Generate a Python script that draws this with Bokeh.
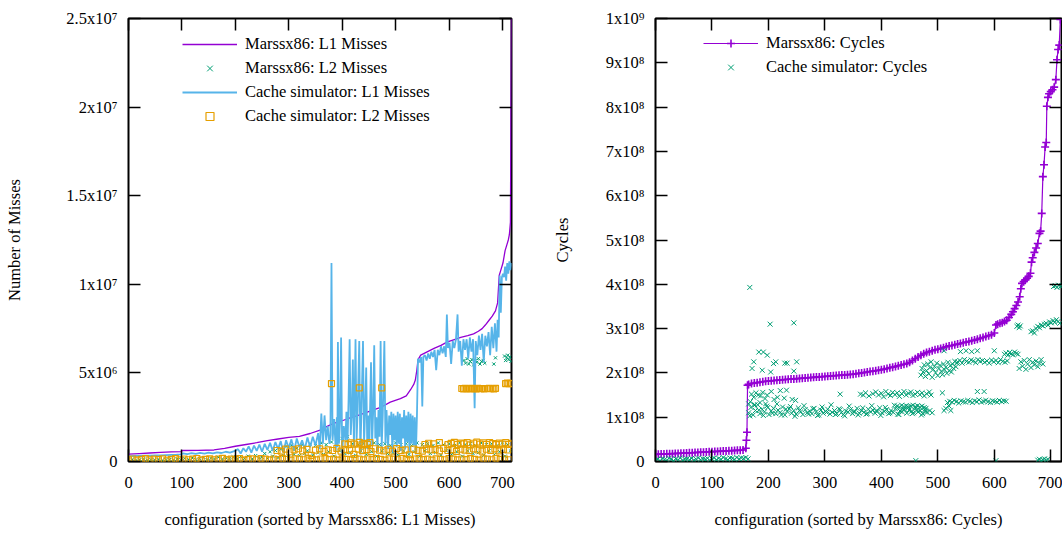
from bokeh.plotting import figure
from bokeh.layouts import row
from bokeh.models import (ColumnDataSource, FixedTicker, LinearAxis, Range1d, Legend, LegendItem,
                          CustomLabelingPolicy)
from bokeh.embed import file_html
from bokeh.resources import INLINE

# ---------------- LEFT PANEL DATA (values in millions of misses) ----------------
mars_l1_cfg = [0, 20, 40, 60, 80, 99, 101, 130, 160, 180, 200, 220, 240, 260, 280, 300, 320, 340, 360, 370,
               384, 400, 416, 430, 447, 460, 472, 490, 509, 520, 528, 534, 537, 540, 542, 547, 560, 572, 585, 597,
               610, 622, 635, 646, 655, 662, 668, 675, 681, 687, 691, 694, 697, 701, 705, 708, 711, 713, 715, 716, 717]
mars_l1_val = [0.42, 0.45, 0.48, 0.51, 0.54, 0.56, 0.62, 0.63, 0.65, 0.74, 0.86, 0.96, 1.06, 1.18, 1.27, 1.36, 1.42, 1.58, 1.78, 1.95,
               2.15, 2.30, 2.48, 2.60, 2.79, 2.93, 3.05, 3.35, 3.55, 3.70, 4.05, 4.35, 4.60, 5.20, 5.75, 6.00, 6.20, 6.38, 6.55, 6.75,
               6.88, 7.00, 7.10, 7.20, 7.35, 7.50, 7.70, 7.97, 8.20, 8.50, 8.95, 10.5, 10.8, 11.2, 11.9, 12.2, 12.5, 12.8, 13.5, 20.0, 26.0]

sim_l1_cfg = [0, 10, 20, 30, 40, 50, 60, 70, 80, 90, 98, 102, 110, 118, 126, 134, 142, 150, 158, 166, 174, 182, 190, 198,
              205, 210, 215, 220, 225, 230, 235, 240, 245, 250, 255, 260, 265, 270, 275, 280, 285, 290, 295, 300, 305, 310,
              315, 320, 325, 330, 335, 340, 345, 350, 355, 358, 361, 364, 367, 370, 373, 376, 378, 380, 382, 385,
              388, 390, 391, 392, 394, 396, 398, 400, 403, 406, 408, 410, 412, 414, 416, 418, 420, 422, 425, 427,
              429, 432, 434, 436, 439, 441, 443, 445, 447, 449, 451, 454, 456, 458, 460, 462, 464, 466, 468, 470,
              472, 474, 476, 479, 481, 483, 486, 488, 490, 492, 494, 496, 498, 500, 502, 504, 506, 508, 510, 512,
              514, 516, 518, 520, 522, 524, 526, 528, 530, 532, 534, 536, 538, 540,
              542, 545, 548, 550, 552, 555, 558, 561, 564, 567, 570, 573, 576, 579, 582, 585, 588, 591, 594, 596,
              598, 601, 604, 607, 610, 613, 616, 618, 621, 624, 627, 630, 633, 636, 639, 642, 645, 648, 650, 653,
              656, 659, 662, 665, 668, 671, 674, 677, 680, 683, 686, 689, 691, 693, 695, 697, 699, 701, 703, 705,
              707, 709, 711, 713, 715, 717]
sim_l1_val = [0.30, 0.31, 0.32, 0.33, 0.33, 0.34, 0.35, 0.36, 0.37, 0.38, 0.40, 0.46, 0.42, 0.47, 0.43, 0.49, 0.45, 0.50, 0.46, 0.52, 0.48, 0.55, 0.50, 0.58,
              0.70, 0.45, 0.75, 0.55, 0.85, 0.50, 0.90, 0.60, 0.95, 0.55, 1.00, 0.65, 1.05, 0.60, 1.10, 0.70, 1.15, 0.50, 1.20, 0.75, 1.25, 0.60,
              1.30, 0.80, 1.20, 0.70, 1.35, 0.80, 1.40, 0.90, 1.60, 0.70, 2.70, 1.00, 2.60, 1.20, 2.00, 1.00, 1.50, 11.2, 1.20, 2.40,
              0.6, 2.5, 0.8, 6.75, 1.0, 2.2, 7.0, 0.5, 2.0, 1.2, 2.8, 0.9, 3.5, 6.9, 1.5, 2.6, 5.75, 0.8, 6.9, 1.2,
              2.9, 6.8, 0.4, 2.7, 6.8, 1.0, 2.8, 5.3, 0.7, 2.6, 1.1, 5.6, 0.9, 2.8, 6.56, 1.3, 2.5, 0.6, 2.9, 1.4,
              6.8, 0.8, 2.6, 6.8, 1.0, 2.9, 0.7, 2.6, 1.5, 2.8, 0.5, 2.7, 1.2, 2.6, 0.8, 2.8, 1.0, 2.7, 0.6, 2.5,
              1.3, 2.9, 0.7, 2.6, 1.1, 2.8, 0.5, 2.7, 1.0, 2.6, 0.9, 2.5, 0.4, 2.6,
              5.8, 5.6, 5.9, 3.1, 5.9, 6.0, 5.7, 6.1, 5.8, 6.2, 5.9, 6.3, 5.15, 6.3, 6.0, 6.5, 6.1, 6.5, 5.9, 8.3,
              6.4, 6.7, 5.5, 6.8, 6.4, 6.9, 8.3, 6.2, 6.8, 5.4, 6.9, 6.3, 6.9, 5.8, 7.0, 6.2, 6.9, 3.0, 6.8, 6.0,
              7.1, 6.3, 7.2, 5.6, 7.1, 6.5, 7.3, 6.0, 7.6, 6.4, 7.8, 6.2, 8.0, 7.0, 10.5, 8.4, 10.4, 10.6, 10.4, 11.0,
              10.2, 11.2, 10.6, 11.3, 10.8, 11.2]

mars_l2_low_cfg = [0, 7, 14, 21, 28, 35, 42, 49, 56, 63, 70, 77, 84, 91, 98, 105, 112, 119, 126, 133, 140, 147, 154, 161,
                   168, 175, 182, 189, 196, 203, 210, 217, 224, 231, 238, 245]
mars_l2_low_val = [0.08, 0.12, 0.06, 0.10, 0.14, 0.07, 0.11, 0.09, 0.13, 0.06, 0.10, 0.12, 0.08, 0.15, 0.09, 0.18, 0.12, 0.20,
                   0.10, 0.16, 0.22, 0.11, 0.19, 0.14, 0.24, 0.12, 0.21, 0.15, 0.26, 0.13, 0.28, 0.17, 0.30, 0.14, 0.33, 0.20]
mars_l2_mid_cfg = [250, 255, 260, 265, 270, 275, 280, 285, 290, 295, 300, 305, 310, 315, 320, 325, 330, 335, 340, 345,
                   350, 355, 360, 365, 370, 375, 380, 385, 390, 395, 400, 405, 410, 415, 420, 425, 430, 435, 440, 445,
                   450, 455, 460, 465, 470, 475, 480, 485, 490, 495, 500, 505, 510, 515, 520, 525, 530, 535, 540, 545,
                   550, 555, 560, 565, 570, 575, 580, 585, 590, 595, 600, 605, 610, 615, 620, 625, 630, 635, 640, 645,
                   650, 655, 660, 665, 670, 675, 680, 685, 690, 695, 700, 705, 710, 715]
mars_l2_mid_val = [0.25, 0.45, 0.18, 0.55, 0.30, 0.62, 0.22, 0.70, 0.35, 0.85, 0.28, 0.92, 0.40, 0.75, 0.33, 0.95, 0.45,
                   0.60, 1.00, 0.35, 0.90, 0.50, 1.05, 0.40, 0.95, 0.55, 1.10, 0.30, 0.90, 0.60, 1.30, 0.45, 1.40, 0.50,
                   1.00, 0.35, 0.95, 0.60, 1.00, 0.40, 0.90, 0.55, 1.05, 0.30, 0.95, 0.60, 1.00, 0.45, 0.90, 0.50, 1.05,
                   0.35, 0.95, 0.60, 1.00, 0.40, 0.90, 0.55, 1.05, 0.30, 0.95, 0.60, 1.00, 0.45, 0.90, 0.50, 1.05, 0.35,
                   0.95, 0.60, 1.00, 0.40, 0.90, 0.55, 1.05, 0.30, 0.95, 0.60, 1.00, 0.45, 0.90, 0.50, 1.05, 0.35, 0.95,
                   0.60, 1.00, 0.40, 0.90, 0.55, 1.05, 0.30, 0.95, 0.60]
mars_l2_high_cfg = [628, 631, 634, 637, 640, 643, 646, 649, 652, 655, 658, 661, 664, 667, 684, 687,
                    704, 706, 708, 710, 712, 714, 716]
mars_l2_high_val = [5.70, 5.55, 5.80, 5.50, 5.65, 5.75, 5.45, 5.70, 5.60, 5.80, 5.50, 5.65, 5.70, 5.55, 5.50, 5.85,
                    5.95, 5.70, 5.85, 6.00, 5.75, 5.90, 5.65]

sim_l2_base_cfg = [0, 8, 16, 24, 32, 40, 48, 56, 64, 72, 80, 88, 96, 104, 112, 120, 128, 136, 144, 152, 160, 168, 176, 184,
                   192, 200, 208, 216, 224, 232, 240, 248, 256, 264, 272, 280, 288, 296, 304, 312, 320, 328, 336, 344,
                   352, 360, 368, 376, 384, 392, 400, 408, 416, 424, 432, 440, 448, 456, 464, 472, 480, 488, 496, 504,
                   512, 520, 528, 536, 544, 552, 560, 568, 576, 584, 592, 600, 608, 616, 624, 632, 640, 648, 656, 664,
                   672, 680, 688, 696, 704, 712]
sim_l2_base_val = [0.10, 0.14, 0.08, 0.12, 0.16, 0.09, 0.13, 0.11, 0.15, 0.07, 0.12, 0.16, 0.09, 0.14, 0.10, 0.13, 0.17, 0.08,
                   0.12, 0.15, 0.10, 0.14, 0.18, 0.09, 0.13, 0.11, 0.16, 0.08, 0.12, 0.15, 0.10, 0.17, 0.13, 0.09, 0.14, 0.11,
                   0.16, 0.12, 0.08, 0.15, 0.13, 0.10, 0.18, 0.12, 0.09, 0.14, 0.16, 0.11, 0.13, 0.08, 0.15, 0.12, 0.10, 0.17,
                   0.13, 0.09, 0.14, 0.11, 0.16, 0.12, 0.08, 0.15, 0.13, 0.10, 0.18, 0.12, 0.09, 0.14, 0.16, 0.11, 0.13, 0.08,
                   0.15, 0.12, 0.10, 0.17, 0.13, 0.09, 0.14, 0.11, 0.16, 0.12, 0.08, 0.15, 0.13, 0.10, 0.18, 0.12, 0.14, 0.10]
sim_l2_mid_cfg = [278, 286, 294, 302, 310, 318, 326, 334, 342, 350, 358, 366, 374, 382, 390, 398, 406, 414, 422, 430,
                  438, 446, 454, 462, 470, 478, 486, 494, 502, 510, 518, 526, 534, 542, 550, 558, 566, 574, 582, 590,
                  598, 606, 614, 622, 630, 638, 646, 654, 662, 670, 678, 686, 694, 702, 710]
sim_l2_mid_val = [0.62, 0.58, 0.70, 0.55, 0.66, 0.72, 0.60, 0.68, 0.35, 0.64, 0.71, 0.57, 0.66, 0.62, 0.74, 0.59, 0.68, 0.63,
                  0.40, 0.70, 0.61, 0.67, 0.56, 0.72, 0.64, 0.60, 0.69, 0.58, 0.73, 0.62, 0.66, 0.38, 0.70, 0.63, 0.59, 0.71,
                  0.65, 0.68, 0.60, 0.74, 0.62, 0.67, 0.57, 0.70, 0.64, 0.61, 0.72, 0.66, 0.59, 0.69, 0.63, 0.71, 0.60, 0.68, 0.65]
sim_l2_upper_cfg = [405, 411, 417, 423, 432, 437, 441, 447, 452, 555, 562, 571, 582, 598, 604, 610, 616, 622, 628, 634,
                    640, 646, 652, 658, 664, 670, 676, 682, 688, 694, 700, 706, 712, 717]
sim_l2_upper_val = [1.00, 0.95, 1.05, 0.98, 1.08, 0.94, 1.02, 0.97, 1.06, 0.96, 1.03, 0.99, 1.07, 0.95, 1.02, 1.08, 0.97,
                    1.04, 0.99, 1.06, 0.94, 1.03, 1.09, 0.98, 1.05, 0.96, 1.07, 1.01, 0.95, 1.04, 0.98, 1.06, 0.97, 1.02]
sim_l2_high_cfg = [380, 432, 474, 624, 627, 630, 633, 636, 639, 642, 645, 648, 651, 654, 657, 660, 663, 666,
                   672, 675, 678, 681, 684, 687, 706, 709, 712, 715, 717]
sim_l2_high_val = [4.40, 4.15, 4.15, 4.12, 4.10, 4.13, 4.11, 4.12, 4.10, 4.13, 4.12, 4.11, 4.10, 4.13, 4.12, 4.11, 4.12, 4.10,
                   4.12, 4.13, 4.11, 4.12, 4.10, 4.13, 4.40, 4.42, 4.39, 4.41, 4.40]

left_yticks = [0, 5, 10, 15, 20, 25]
left_ylabels = ["0", "5x10⁶", "1x10⁷", "1.5x10⁷", "2x10⁷", "2.5x10⁷"]

# ---------------- RIGHT PANEL DATA (values in units of 1e8 cycles) ----------------
mars_cyc_cfg = [0, 5, 10, 15, 20, 25, 30, 35, 40, 45, 50, 55, 60, 65, 70, 75, 80, 85, 90, 95, 100, 105, 110, 115, 120, 125,
                130, 135, 140, 145, 150, 155, 160, 161, 162, 163,
                165, 170, 175, 180, 185, 190, 195, 200, 205, 210, 215, 220, 225, 230, 235, 240, 245, 250, 255, 260,
                265, 270, 275, 280, 285, 290, 295, 300, 305, 310, 315, 320, 325, 330, 335, 340, 345, 350, 355, 360,
                365, 370, 375, 380, 385, 390, 395, 400, 405, 410, 415, 420, 425, 430, 435, 440, 445, 450, 455, 460,
                465, 470, 475, 480, 485, 490, 495, 500, 505, 510, 515, 520, 525, 530, 535, 540, 545, 550, 555, 560,
                565, 570, 575, 580, 585, 590, 595, 600,
                603, 606, 610, 614, 618, 622, 626, 630, 633, 636, 639, 642, 645, 647, 649, 652, 655, 658, 661, 664,
                666, 668, 671, 674, 677, 680, 682, 684, 686, 688, 690, 692, 693, 695, 697, 700, 703, 706, 709, 711,
                713, 715, 717, 718, 719]
mars_cyc_val = [0.160, 0.162, 0.167, 0.169, 0.173, 0.175, 0.177, 0.181, 0.183, 0.185, 0.189, 0.192, 0.195, 0.199, 0.202, 0.205,
                0.209, 0.211, 0.215, 0.219, 0.222, 0.225, 0.228, 0.232, 0.235, 0.238, 0.242, 0.245, 0.249, 0.252, 0.255, 0.259,
                0.30, 0.48, 0.66, 1.72,
                1.74, 1.76, 1.77, 1.78, 1.79, 1.80, 1.81, 1.815, 1.82, 1.83, 1.835, 1.84, 1.845, 1.85, 1.855, 1.86,
                1.865, 1.87, 1.875, 1.88, 1.885, 1.89, 1.895, 1.90, 1.905, 1.91, 1.915, 1.92, 1.925, 1.93, 1.935, 1.94,
                1.945, 1.95, 1.955, 1.96, 1.965, 1.97, 1.98, 1.99, 2.00, 2.01, 2.02, 2.03, 2.04, 2.05, 2.06, 2.07,
                2.085, 2.10, 2.115, 2.13, 2.145, 2.16, 2.18, 2.195, 2.21, 2.24, 2.28, 2.32, 2.36, 2.40, 2.43, 2.46,
                2.48, 2.50, 2.52, 2.535, 2.55, 2.57, 2.59, 2.61, 2.62, 2.635, 2.65, 2.665, 2.68, 2.695, 2.71, 2.725,
                2.74, 2.76, 2.78, 2.80, 2.82, 2.84, 2.86, 2.90,
                3.08, 3.10, 3.12, 3.13, 3.16, 3.19, 3.25, 3.32, 3.38, 3.45, 3.52, 3.60, 3.72, 3.90, 4.02, 4.06, 4.10, 4.14,
                4.18, 4.25, 4.50, 4.60, 4.72, 4.82, 4.92, 5.15, 5.20, 5.60, 6.43, 6.70, 7.10, 7.20, 8.02, 8.22, 8.30, 8.35,
                8.39, 8.45, 8.62, 9.07, 9.30, 9.40, 9.98, 10.3, 10.6]

sim_cyc_zero_cfg = [0, 4, 8, 12, 16, 20, 24, 28, 32, 36, 40, 44, 48, 52, 56, 60, 64, 68, 72, 76, 80, 84, 88, 92, 96, 100,
                    104, 108, 112, 116, 120, 124, 128, 132, 136, 140, 144, 148, 152, 156, 160, 164]
sim_cyc_zero_val = [0.03, 0.05, 0.02, 0.06, 0.04, 0.03, 0.07, 0.05, 0.02, 0.06, 0.04, 0.08, 0.03, 0.05, 0.06, 0.04, 0.07,
                    0.03, 0.05, 0.08, 0.04, 0.06, 0.05, 0.07, 0.03, 0.06, 0.08, 0.04, 0.07, 0.05, 0.09, 0.06, 0.04, 0.08,
                    0.07, 0.05, 0.09, 0.06, 0.08, 0.07, 0.09, 0.06]
sim_cyc_band_cfg = [165, 169, 173, 177, 181, 185, 189, 193, 197, 201, 205, 209, 213, 217, 221, 225, 229, 233, 237, 241,
                    245, 249, 253, 257, 261, 265, 269, 273, 277, 281, 285, 289, 293, 297, 301, 305, 309, 313, 317, 321,
                    325, 329, 333, 337, 341, 345, 349, 353, 357, 361, 365, 369, 373, 377, 381, 385, 389, 393, 397, 401,
                    405, 409, 413, 417, 421, 425, 429, 433, 437, 441, 445, 449, 453, 457, 461, 465, 469, 473, 477, 481]
sim_cyc_band_val = [1.10, 1.22, 1.05, 1.15, 1.28, 1.08, 1.18, 1.12, 1.25, 1.06, 1.14, 1.20, 1.08, 1.16, 1.11, 1.23, 1.05,
                    1.13, 1.19, 1.09, 1.15, 1.07, 1.21, 1.12, 1.06, 1.17, 1.10, 1.14, 1.08, 1.20, 1.12, 1.05, 1.16, 1.09,
                    1.13, 1.18, 1.07, 1.11, 1.15, 1.08, 1.19, 1.10, 1.06, 1.14, 1.12, 1.17, 1.08, 1.13, 1.20, 1.09, 1.15,
                    1.11, 1.07, 1.18, 1.12, 1.16, 1.09, 1.14, 1.21, 1.10, 1.13, 1.17, 1.08, 1.15, 1.11, 1.19, 1.07, 1.14,
                    1.12, 1.18, 1.09, 1.16, 1.13, 1.10, 1.20, 1.12, 1.15, 1.08, 1.17, 1.11]
sim_cyc_band2_cfg = [167, 175, 183, 191, 199, 207, 215, 223, 231, 239, 247, 255, 263, 271, 279, 287, 295, 303, 311, 319,
                     327, 335, 343, 351, 359, 367, 375, 383, 391, 399, 407, 415, 423, 431, 439, 447, 455, 463, 471, 479]
sim_cyc_band2_val = [1.03, 1.27, 1.16, 1.04, 1.22, 1.09, 1.30, 1.05, 1.18, 1.24, 1.02, 1.15, 1.26, 1.07, 1.19, 1.04, 1.23,
                     1.11, 1.28, 1.06, 1.17, 1.03, 1.25, 1.12, 1.05, 1.21, 1.08, 1.26, 1.14, 1.04, 1.22, 1.10, 1.27, 1.06,
                     1.18, 1.24, 1.08, 1.15, 1.05, 1.20]
sim_cyc_r15_cfg = [363, 368, 372, 378, 385, 390, 395, 400, 404, 408, 412, 416, 420, 424, 428, 432, 436, 440, 444, 448,
                   452, 456, 460, 464, 468, 472, 476, 480, 485, 488]
sim_cyc_r15_val = [1.52, 1.50, 1.55, 1.48, 1.53, 1.57, 1.50, 1.54, 1.46, 1.58, 1.52, 1.49, 1.56, 1.51, 1.55, 1.47, 1.53,
                   1.58, 1.50, 1.54, 1.57, 1.49, 1.52, 1.56, 1.51, 1.55, 1.48, 1.53, 1.57, 1.50]
sim_cyc_r125_cfg = [428, 432, 436, 440, 444, 448, 452, 456, 460, 464, 468, 472, 476]
sim_cyc_r125_val = [1.25, 1.23, 1.27, 1.24, 1.26, 1.22, 1.25, 1.27, 1.24, 1.26, 1.23, 1.25, 1.22]
sim_cyc_r135_cfg = [517, 521, 525, 529, 533, 537, 541, 545, 549, 553, 557, 561, 565, 569, 573, 577, 581, 585, 589, 593,
                    597, 601, 605, 609, 613, 617, 621]
sim_cyc_r135_val = [1.33, 1.36, 1.34, 1.38, 1.35, 1.32, 1.37, 1.35, 1.34, 1.38, 1.36, 1.33, 1.37, 1.35, 1.39, 1.34, 1.36,
                    1.38, 1.35, 1.33, 1.37, 1.36, 1.34, 1.38, 1.35, 1.37, 1.36]
sim_cyc_up_cfg = [470, 472, 474, 476, 478, 480, 482, 484, 486, 488, 490, 492, 494, 496, 498, 500, 502, 504, 506, 508,
                  510, 512, 514, 516, 518, 520, 522, 524, 526, 528, 530, 532, 534]
sim_cyc_up_val = [1.95, 2.10, 2.02, 2.18, 1.92, 2.05, 2.20, 1.98, 2.12, 2.25, 1.90, 2.08, 2.15, 2.00, 2.22, 1.94, 2.10,
                  2.17, 2.03, 1.96, 2.20, 2.07, 2.13, 1.99, 2.24, 2.05, 2.16, 2.02, 2.20, 2.10, 2.26, 2.14, 2.22]
sim_cyc_r225_cfg = [535, 539, 543, 547, 551, 555, 559, 563, 567, 571, 575, 579, 583, 587, 591, 595, 599, 603, 607, 611,
                    615, 619, 623]
sim_cyc_r225_val = [2.25, 2.28, 2.22, 2.30, 2.26, 2.24, 2.29, 2.27, 2.23, 2.30, 2.26, 2.28, 2.24, 2.27, 2.22, 2.29, 2.25,
                    2.28, 2.23, 2.30, 2.26, 2.24, 2.27]
sim_cyc_r243_cfg = [618, 621, 624, 627, 630, 633, 636, 639, 642]
sim_cyc_r243_val = [2.42, 2.45, 2.40, 2.46, 2.43, 2.41, 2.47, 2.44, 2.42]
sim_cyc_r215_cfg = [644, 647, 650, 653, 656, 659, 662, 665, 668, 671, 674, 677, 680, 683, 686]
sim_cyc_r215_val = [2.10, 2.25, 2.15, 2.28, 2.08, 2.20, 2.30, 2.12, 2.24, 2.18, 2.27, 2.14, 2.22, 2.30, 2.20]
sim_cyc_rise_cfg = [665, 668, 671, 674, 677, 680, 683, 686, 689, 692, 695, 698, 701, 704, 707, 710, 713, 716]
sim_cyc_rise_val = [2.93, 2.95, 2.90, 3.00, 3.05, 3.02, 3.08, 3.06, 3.10, 3.12, 3.08, 3.15, 3.13, 3.18, 3.14, 3.20, 3.16, 3.12]
sim_cyc_top_cfg = [705, 708, 711, 714, 717, 719]
sim_cyc_top_val = [3.95, 3.97, 3.93, 3.98, 3.95, 3.96]
sim_cyc_misc_cfg = [165, 168, 170, 174, 176, 178, 182, 185, 186, 190, 194, 195, 198, 205, 210, 216, 221, 228, 232, 242, 248, 327,
                    167, 203, 245, 171, 174, 183, 189, 191, 198, 204, 209, 213, 229, 233, 245, 250,
                    478, 486, 490, 508, 511, 514, 520, 523, 570, 582,
                    511, 540, 550, 560, 570, 600,
                    640, 642, 644, 646,
                    461, 603, 677, 680, 683, 686, 689, 692, 695]
sim_cyc_misc_val = [1.30, 1.35, 1.52, 1.45, 1.28, 1.55, 1.50, 1.33, 1.48, 1.56, 1.42, 1.30, 1.50, 1.58, 1.40, 1.45, 1.60, 1.43, 1.61, 1.40, 1.38, 1.52,
                    3.93, 3.10, 3.13, 2.10, 2.25, 2.47, 2.06, 2.47, 2.40, 2.02, 2.21, 2.25, 2.22, 2.22, 2.04, 2.25,
                    1.12, 1.15, 1.10, 1.55, 1.15, 1.20, 1.25, 1.15, 1.58, 1.58,
                    2.50, 2.48, 2.50, 2.48, 2.50, 2.50,
                    3.05, 3.08, 3.02, 3.06,
                    0.02, 0.02, 0.03, 0.05, 0.02, 0.04, 0.06, 0.03, 0.05]

right_yticks = [0, 1, 2, 3, 4, 5, 6, 7, 8, 9, 10]
right_ylabels = ["0", "1x10⁸", "2x10⁸", "3x10⁸", "4x10⁸", "5x10⁸", "6x10⁸", "7x10⁸", "8x10⁸", "9x10⁸", "1x10⁹"]
x_ticks = [0, 100, 200, 300, 400, 500, 600, 700]

# ---------------- STYLE ----------------
FONT = "Liberation Serif"
FS = "16.5px"
PURPLE = "#9400D3"
GREEN = "#009E73"
BLUE = "#56B4E9"
ORANGE = "#E69F00"


def src(c, v):
    n = min(len(c), len(v))
    return ColumnDataSource(dict(x=list(c[:n]), y=list(v[:n])))


def make_fig(xmax, ymax, bl, br):
    p = figure(width=531, height=534, x_range=Range1d(0, xmax), y_range=Range1d(0, ymax),
               output_backend="svg", toolbar_location=None, title=None,
               min_border_left=bl, min_border_right=br, min_border_top=18, min_border_bottom=73)
    p.xgrid.visible = False
    p.ygrid.visible = False
    p.outline_line_color = "black"
    p.outline_line_width = 2
    p.outline_line_alpha = 1
    p.background_fill_color = "white"
    p.border_fill_color = "white"
    return p


def style_axes(p, yticks, ylabels, xlabel, ylabel, ylab_standoff):
    # mirrored tick marks (no labels) on the top and right edges
    p.add_layout(LinearAxis(), "above")
    p.add_layout(LinearAxis(), "right")
    for ax in p.xaxis:
        ax.ticker = FixedTicker(ticks=x_ticks)
    for ax in p.yaxis:
        ax.ticker = FixedTicker(ticks=yticks)
    for ax in p.xaxis + p.yaxis:
        ax.major_tick_in = 12
        ax.major_tick_out = 0
        ax.minor_tick_line_color = None
        ax.axis_line_color = None
        ax.major_tick_line_color = "black"
        ax.major_tick_line_width = 1.5
        ax.major_label_text_font = FONT
        ax.major_label_text_font_size = FS
        ax.major_label_text_color = "black"
        ax.axis_label_text_font = FONT
        ax.axis_label_text_font_size = FS
        ax.axis_label_text_font_style = "normal"
        ax.axis_label_text_color = "black"
    bottom = p.below[0]
    left = p.left[0]
    bottom.axis_label = xlabel
    bottom.major_label_standoff = 15
    bottom.axis_label_standoff = 19
    left.axis_label = ylabel
    left.major_label_standoff = 11
    left.axis_label_standoff = ylab_standoff
    left.major_label_overrides = {t: l for t, l in zip(yticks, ylabels)}
    for ax in (p.above[0], p.right[0]):
        ax.major_label_text_font_size = "0px"
        ax.major_label_standoff = 0
        ax.major_label_policy = CustomLabelingPolicy(code="return [];")


def legend(items, loc):
    lg = Legend(items=items, location=loc, border_line_color=None, background_fill_alpha=0,
                label_text_font=FONT, label_text_font_size=FS, label_text_color="black",
                glyph_width=55, glyph_height=20, label_height=20, spacing=4, padding=8,
                label_standoff=8, margin=0)
    return lg


# ---------------- LEFT FIGURE ----------------
p1 = make_fig(717, 25, 128, 20)
style_axes(p1, left_yticks, left_ylabels, "configuration (sorted by Marssx86: L1 Misses)", "Number of Misses", 39)

r_m1 = p1.line("x", "y", source=src(mars_l1_cfg, mars_l1_val), line_color=PURPLE, line_width=1.3)
r_m2 = p1.scatter("x", "y", source=src(mars_l2_low_cfg + mars_l2_mid_cfg + mars_l2_high_cfg,
                                       mars_l2_low_val + mars_l2_mid_val + mars_l2_high_val),
                  marker="x", size=4.5, line_color=GREEN, line_width=1)
r_s1 = p1.line("x", "y", source=src(sim_l1_cfg, sim_l1_val), line_color=BLUE, line_width=1.8)
r_s2 = p1.scatter("x", "y", source=src(sim_l2_base_cfg + sim_l2_mid_cfg + sim_l2_upper_cfg + sim_l2_high_cfg,
                                       sim_l2_base_val + sim_l2_mid_val + sim_l2_upper_val + sim_l2_high_val),
                  marker="square", size=6, fill_color=None, line_color=ORANGE, line_width=1.2)

p1.add_layout(legend([
    LegendItem(label="Marssx86: L1 Misses", renderers=[r_m1]),
    LegendItem(label="Marssx86: L2 Misses", renderers=[r_m2]),
    LegendItem(label="Cache simulator: L1 Misses", renderers=[r_s1]),
    LegendItem(label="Cache simulator: L2 Misses", renderers=[r_s2]),
], (54, 335)))

# ---------------- RIGHT FIGURE ----------------
p2 = make_fig(719, 10, 124, 1)
style_axes(p2, right_yticks, right_ylabels, "configuration (sorted by Marssx86: Cycles)", "Cycles", 31)

r_c1 = p2.line("x", "y", source=src(mars_cyc_cfg, mars_cyc_val), line_color=PURPLE, line_width=1.2)
r_c1m = p2.scatter("x", "y", source=src(mars_cyc_cfg, mars_cyc_val), marker="cross", size=8,
                   line_color=PURPLE, line_width=1.6)
green_cfg = (sim_cyc_zero_cfg + sim_cyc_band_cfg + sim_cyc_band2_cfg + sim_cyc_r15_cfg + sim_cyc_r125_cfg +
             sim_cyc_r135_cfg + sim_cyc_up_cfg + sim_cyc_r225_cfg + sim_cyc_r243_cfg + sim_cyc_r215_cfg +
             sim_cyc_rise_cfg + sim_cyc_top_cfg + sim_cyc_misc_cfg)
green_val = (sim_cyc_zero_val + sim_cyc_band_val + sim_cyc_band2_val + sim_cyc_r15_val + sim_cyc_r125_val +
             sim_cyc_r135_val + sim_cyc_up_val + sim_cyc_r225_val + sim_cyc_r243_val + sim_cyc_r215_val +
             sim_cyc_rise_val + sim_cyc_top_val + sim_cyc_misc_val)
r_c2 = p2.scatter("x", "y", source=src(green_cfg, green_val), marker="x", size=7, line_color=GREEN, line_width=1)

p2.add_layout(legend([
    LegendItem(label="Marssx86: Cycles", renderers=[r_c1, r_c1m]),
    LegendItem(label="Cache simulator: Cycles", renderers=[r_c2]),
], (48, 384)))

layout = row(p1, p2)
open("out.html", "w").write(file_html(layout, INLINE))
